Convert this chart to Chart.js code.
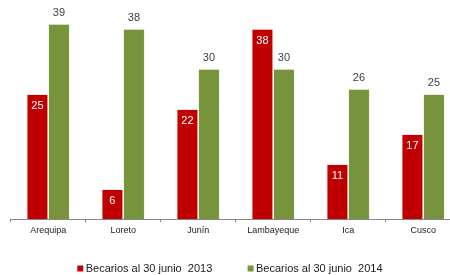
<!DOCTYPE html>
<html>
<head>
<meta charset="utf-8">
<script src="https://cdn.jsdelivr.net/npm/chart.js@4/dist/chart.umd.min.js"></script>
<style>
  html, body { margin: 0; padding: 0; background: #fff; overflow: hidden; }
  #wrap { position: relative; width: 471px; height: 275px; }
</style>
</head>
<body>
<div id="wrap"><canvas id="c"></canvas></div>
<script>
const categories = ["Arequipa", "Loreto", "Junín", "Lambayeque", "Ica", "Cusco"];
const series2013 = [25, 6, 22, 38, 11, 17];
const series2014 = [39, 38, 30, 30, 26, 25];
const seriesNames = ["Becarios al 30 junio  2013", "Becarios al 30 junio  2014"];
const FONT = "'Liberation Sans', Arial, sans-serif";

const valueLabels = {
  id: 'valueLabels',
  afterDatasetsDraw(chart) {
    const ctx = chart.ctx;
    ctx.save();
    ctx.font = "11px " + FONT;
    ctx.textAlign = 'center';
    ctx.textBaseline = 'middle';
    chart.data.datasets.forEach((ds, di) => {
      const meta = chart.getDatasetMeta(di);
      meta.data.forEach((bar, i) => {
        const v = ds.data[i];
        if (di === 0) {
          ctx.fillStyle = '#ffffff';
          ctx.fillText(String(v), bar.x, bar.y + 12);
        } else {
          ctx.fillStyle = '#404040';
          ctx.fillText(String(v), bar.x, bar.y - 11);
        }
      });
    });
    ctx.restore();
  }
};

const customLegend = {
  id: 'customLegend',
  afterDraw(chart) {
    const ctx = chart.ctx;
    ctx.save();
    ctx.font = "11px " + FONT;
    ctx.textBaseline = 'middle';
    ctx.textAlign = 'left';
    const y = 268.5;
    let x = 77.3;
    chart.data.datasets.forEach((ds) => {
      ctx.fillStyle = ds.backgroundColor;
      ctx.fillRect(x, y - 3, 6, 6);
      x += 8.4;
      ctx.fillStyle = '#1a1a1a';
      ctx.fillText(ds.label, x, y);
      x += ctx.measureText(ds.label).width + 35.3;
    });
    ctx.restore();
  }
};

new Chart(document.getElementById('c'), {
  type: 'bar',
  data: {
    labels: categories,
    datasets: [
      { label: seriesNames[0], data: series2013, backgroundColor: '#C00000',
        borderColor: 'rgba(255,210,210,0.7)', borderWidth: 0.8, borderSkipped: 'bottom' },
      { label: seriesNames[1], data: series2014, backgroundColor: '#77933C',
        borderColor: 'rgba(225,235,205,0.7)', borderWidth: 0.8, borderSkipped: 'bottom' }
    ]
  },
  options: {
    responsive: true,
    maintainAspectRatio: false,
    animation: false,
    categoryPercentage: 0.575,
    barPercentage: 1.0,
    layout: { padding: { left: 10.7, right: 10.3, top: 19, bottom: 36 } },
    plugins: {
      legend: { display: false },
      tooltip: { enabled: false }
    },
    scales: {
      x: {
        grid: { display: true, drawOnChartArea: false, drawTicks: true, tickLength: 3, color: '#888888', offset: true },
        border: { display: true, color: '#888888', width: 1 },
        ticks: { color: '#222222', font: { family: FONT, size: 9 }, padding: 3, maxRotation: 0, autoSkip: false }
      },
      y: {
        display: false,
        min: 0,
        max: 40
      }
    }
  },
  plugins: [valueLabels, customLegend]
});
</script>
</body>
</html>
